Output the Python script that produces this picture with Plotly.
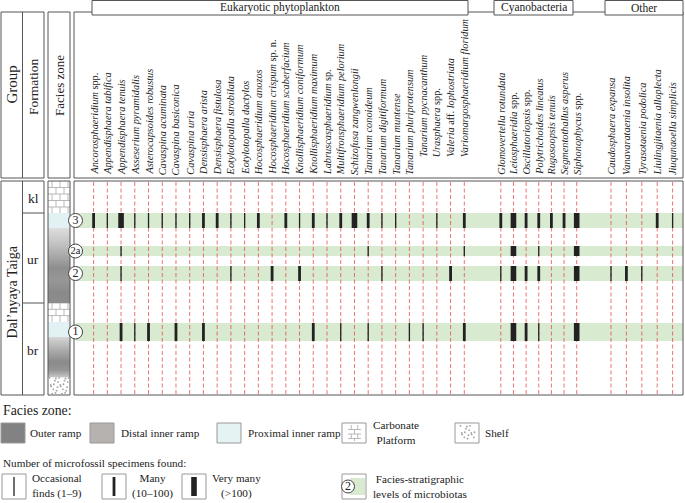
import plotly.graph_objects as go

# ---------------- data ----------------
euk_names = [
    "<i>Ancorosphaeridium</i> spp.", "<i>Appendisphaera tabifica</i>", "<i>Appendisphaera tenuis</i>",
    "<i>Asseserium pyramidalis</i>", "<i>Asterocapsoides robustus</i>", "<i>Cavaspina acuminata</i>",
    "<i>Cavaspina basiconica</i>", "<i>Cavaspina uria</i>", "<i>Densisphaera arista</i>",
    "<i>Densisphaera fistulosa</i>", "<i>Eotylotopalla strobilata</i>", "<i>Eotylotopalla dactylos</i>",
    "<i>Hocosphaeridium anozos</i>", "<i>Hocosphaeridium crispum</i> sp. n.", "<i>Hocosphaeridium scaberfacium</i>",
    "<i>Knollisphaeridium coniformum</i>", "<i>Knollisphaeridium maximum</i>", "<i>Labruscasphaeridium</i> sp.",
    "<i>Multifronsphaeridium pelorium</i>", "<i>Schizofusa zangwenlongii</i>", "<i>Tanarium conoideum</i>",
    "<i>Tanarium digitiformum</i>", "<i>Tanarium muntense</i>", "<i>Tanarium pluriprotensum</i>",
    "<i>Tanarium pycnacanthum</i>", "<i>Urasphaera</i> spp.", "<i>Valeria</i> aff. <i>lophostriata</i>",
    "<i>Variomargosphaeridium floridum</i>",
]
cyan_names = [
    "<i>Glomovertella rotundata</i>", "<i>Leiosphaeridia</i> spp.", "<i>Oscillatoriopsis</i> spp.",
    "<i>Polytrichoides lineatus</i>", "<i>Rugosoopsis tenuis</i>", "<i>Segmentothallus asperus</i>",
    "<i>Siphonophycus</i> spp.",
]
other_names = [
    "<i>Caudosphaera expansa</i>", "<i>Vanavarataenia insolita</i>", "<i>Tyrasotaenia podolica</i>",
    "<i>Liulingjitaenia alloplecta</i>", "<i>Jiuqunaoella simplicis</i>",
]
group_names = ["Eukaryotic phytoplankton", "Cyanobacteria", "Other"]

# abundance class per species: 0 none, 1 occasional, 2 many, 3 very many
level_names = ["3", "2a", "2", "1"]
level3 = [2, 1, 3, 1, 1, 1, 1, 1, 2, 2, 1, 1, 2, 0, 2, 1, 2, 1, 2, 3, 2, 1, 1, 0, 0, 1, 0, 2,
          2, 3, 2, 2, 2, 2, 3,
          0, 0, 0, 2, 1]
level2a = [0, 0, 1, 0, 0, 0, 0, 0, 0, 0, 0, 0, 0, 0, 0, 0, 0, 0, 0, 0, 1, 0, 0, 0, 0, 0, 0, 1,
           0, 3, 0, 1, 0, 0, 3,
           0, 0, 0, 0, 0]
level2 = [0, 0, 1, 0, 0, 0, 0, 0, 0, 0, 1, 0, 0, 2, 0, 2, 0, 0, 0, 0, 0, 1, 0, 0, 0, 0, 2, 0,
          1, 3, 2, 2, 0, 0, 3,
          1, 2, 1, 0, 0]
level1 = [0, 0, 2, 1, 2, 0, 2, 0, 2, 0, 0, 0, 0, 0, 0, 0, 2, 0, 1, 0, 1, 0, 0, 1, 1, 0, 0, 2,
          0, 3, 2, 1, 0, 0, 3,
          0, 0, 0, 0, 0]
levels = [level3, level2a, level2, level1]

formations = ["kl", "ur", "br"]
group_label = "Dal\u2019nyaya Taiga"

# ---------------- layout constants (pixels) ----------------
W, H = 685, 503
SERIF = "Liberation Serif, Times New Roman, serif"
FRAME = "#555555"
GREEN = "#d8eacf"
BAR = "#222222"
LEG_FS = 11.2
NONE = "rgba(0,0,0,0)"

euk_x0, euk_step = 93.6, 13.73
cyan_x0, cyan_step = 500.8, 12.65
oth_x0, oth_step = 611.0, 15.4
col_x = ([euk_x0 + euk_step * i for i in range(len(euk_names))] +
         [cyan_x0 + cyan_step * i for i in range(len(cyan_names))] +
         [oth_x0 + oth_step * i for i in range(len(other_names))])
all_names = euk_names + cyan_names + other_names

data_top, data_bot = 181, 395
head_top, head_bot = 12, 178
level_span = [(213, 228), (246, 256), (266, 281), (323, 341)]
bar_width = {1: 1.3, 2: 2.8, 3: 5.6}

shapes = []
annotations = []
traces = []


def rect(x0, y0, x1, y1, fill=NONE, line=FRAME, lw=1.0, layer="below"):
    shapes.append(dict(type="rect", x0=x0, y0=y0, x1=x1, y1=y1, fillcolor=fill,
                       line=dict(color=line, width=lw), layer=layer, xref="x", yref="y"))


def seg(x0, y0, x1, y1, color=FRAME, lw=1.0, layer="below"):
    shapes.append(dict(type="line", x0=x0, y0=y0, x1=x1, y1=y1,
                       line=dict(color=color, width=lw), layer=layer, xref="x", yref="y"))


def text(x, y, s, size=LEG_FS, angle=0, xa="left", ya="middle"):
    annotations.append(dict(x=x, y=y, xref="x", yref="y", text=s, showarrow=False,
                            textangle=angle, xanchor=xa, yanchor=ya, borderpad=0,
                            font=dict(family=SERIF, size=size, color="#222")))


def hexmix(c1, c2, t):
    a = [int(c1[i:i + 2], 16) for i in (1, 3, 5)]
    b = [int(c2[i:i + 2], 16) for i in (1, 3, 5)]
    return "#%02x%02x%02x" % tuple(round(a[k] + (b[k] - a[k]) * t) for k in range(3))


def gradient(x0, x1, stops):
    for (ya, ca), (yb, cb) in zip(stops[:-1], stops[1:]):
        n = max(1, int(round(yb - ya)))
        for k in range(n):
            c = hexmix(ca, cb, (k + 0.5) / n)
            y = ya + (yb - ya) * k / n
            shapes.append(dict(type="rect", x0=x0, x1=x1, y0=y, y1=y + (yb - ya) / n + 0.3,
                               fillcolor=c, line=dict(width=0), layer="below"))


def bricks(x0, x1, y0, y1, rowh, bw, color="#a8a8a8"):
    r = 0
    y = y0
    while y < y1 - 0.5:
        yn = min(y + rowh, y1)
        if y > y0:
            seg(x0, y, x1, y, color, 0.8)
        off = (bw / 2) if r % 2 else 0
        xx = x0 + off + bw / 2
        while xx < x1 - 1:
            seg(xx, y, xx, yn, color, 0.8)
            xx += bw
        y = yn
        r += 1


dot_x, dot_y = [], []


def dots(x0, x1, y0, y1, step=3.2):
    r = 0
    y = y0 + 1.5
    while y < y1 - 1:
        x = x0 + 1.5 + (step / 2 if r % 2 else 0) + ((r * 7) % 3) * 0.6
        i = 0
        while x < x1 - 1:
            if (i + r) % 3 != 1:
                dot_x.append(x)
                dot_y.append(y + ((i * 5 + r) % 3 - 1) * 0.7)
            x += step
            i += 1
        y += step * 0.9
        r += 1


# ---------------- header ----------------
rect(1, head_top, 44, head_bot)
seg(22.5, head_top, 22.5, head_bot)
rect(48, head_top, 70, head_bot)
rect(74, head_top, 683, head_bot)
text(11.5, 85, "Group", 15, -90, "center", "middle")
text(33, 87, "Formation", 13.5, -90, "center", "middle")
text(59, 86, "Facies zone", 13, -90, "center", "middle")

group_boxes = [(92, 468), (494, 573), (605, 683)]
for (gx0, gx1), gname in zip(group_boxes, group_names):
    rect(gx0, 0.5, gx1, 15, fill="white")
    text((gx0 + gx1) / 2, 7.5, gname, 11.5, 0, "center", "middle")

raised = {24, 25, 26, 27}
for i, (cx, nm) in enumerate(zip(col_x, all_names)):
    yb = 158 if i in raised else 176
    text(cx, yb, nm, 10.3, -90, "center", "bottom")

# ---------------- left columns ----------------
rect(1, data_top, 44, data_bot)
seg(22.5, data_top, 22.5, data_bot)
form_bounds = [data_top, 213, 303, data_bot]
for b in form_bounds[1:-1]:
    seg(22.5, b, 44, b)
for k, f in enumerate(formations):
    text(33, (form_bounds[k] + form_bounds[k + 1]) / 2 + 1, f, 13.5, 0, "center", "middle")
text(11.5, 292, group_label, 14, -90, "center", "middle")

# facies column
fx0, fx1 = 48, 70
bricks(fx0, fx1, data_top, 213, 6.5, 8)
rect(fx0, 213, fx1, 228, fill="#e2f1f3", line=NONE, lw=0)
gradient(fx0, fx1, [(228, "#dedede"), (244, "#c2c2c2"), (258, "#a4a4a4"), (268, "#8e8e8e"),
                    (280, "#979797"), (292, "#8a8a8a"), (303, "#8c8c8c")])
bricks(fx0, fx1, 303, 322, 6.3, 8)
rect(fx0, 322, fx1, 337, fill="#e2f1f3", line=NONE, lw=0)
gradient(fx0, fx1, [(337, "#d6d6d6"), (350, "#acacac"), (362, "#8a8a8a"), (370, "#959595"),
                    (377, "#c4c4c4")])
dots(fx0, fx1, 377, data_bot)
rect(fx0, data_top, fx1, data_bot)

# data panel
for (y0, y1) in level_span:
    rect(76, y0, 683, y1, fill=GREEN, line=NONE, lw=0)
rect(74, data_top, 683, data_bot)

# dashed column guides
gx, gy = [], []
for cx in col_x:
    gx += [cx, cx, None]
    gy += [data_top + 1, data_bot - 1, None]
traces.append(go.Scatter(x=gx, y=gy, mode="lines", hoverinfo="skip",
                         line=dict(color="rgba(228,70,70,0.75)", width=1, dash="4px,2.5px")))

# bars
for cls in (1, 2, 3):
    bx, by = [], []
    for lv, (y0, y1) in zip(levels, level_span):
        for cx, v in zip(col_x, lv):
            if v == cls:
                bx += [cx, cx, None]
                by += [y0, y1, None]
    traces.append(go.Scatter(x=bx, y=by, mode="lines", hoverinfo="skip",
                             line=dict(color=BAR, width=bar_width[cls])))

# level circles
traces.append(go.Scatter(
    x=[75.5] * len(level_names), y=[(a + b) / 2 for a, b in level_span],
    mode="markers+text", text=level_names, textposition="middle center",
    textfont=dict(family=SERIF, size=[12, 10.5, 12, 12], color="#222"),
    marker=dict(size=14, color="white", line=dict(color="#444", width=1)),
    hoverinfo="skip"))

# ---------------- legend ----------------
text(2, 410, "Facies zone:", 13.8)
ly0, ly1 = 423, 443
rect(1, ly0, 25, ly1, fill="#828282", line="#999")
text(29, 433, "Outer ramp")
rect(90, ly0, 114, ly1, fill="#b5b2b0", line="#999")
text(120, 433, "Distal inner ramp")
rect(217, ly0, 241, ly1, fill="#e6f3f3", line="#999")
text(247, 433, "Proximal inner ramp")
rect(342, ly0, 366, ly1, line="#999")
bricks(348, 361, ly0 + 2, ly1 - 2, 4.5, 6.5)
text(372, 432, "Carbonate<br>Platform")
rect(455, ly0, 479, ly1, line="#999")
dots(459, 476, ly0 + 2, ly1 - 2)
text(484, 433, "Shelf")

text(2, 463, "Number of microfossil specimens found:")
ry0, ry1 = 474, 499
leg_items = [(2, "Occasional<br>finds (1\u20139)", 1), (102, "Many<br>(10\u2013100)", 2),
             (182, "Very many<br>(>100)", 3)]
for lx, lab, cls in leg_items:
    rect(lx, ry0, lx + 24, ry1, line="#999")
    seg(lx + 12, ry0 + 3, lx + 12, ry1 - 3, BAR, bar_width[cls])
    text(lx + 29, 486, lab)
rect(350, 478, 365, 495, fill=GREEN, line=NONE, lw=0)
rect(342, ry0, 366, ry1, line="#999")
traces.append(go.Scatter(x=[348], y=[486.5], mode="markers+text", text=["2"],
                         textposition="middle center",
                         textfont=dict(family=SERIF, size=12, color="#222"),
                         marker=dict(size=13, color="white", line=dict(color="#444", width=1)),
                         hoverinfo="skip"))
text(372, 486, "Facies-stratigraphic<br>levels of microbiotas")

traces.append(go.Scatter(x=dot_x, y=dot_y, mode="markers", hoverinfo="skip",
                         marker=dict(size=1.8, color="#a0a0a0", line=dict(width=0))))

fig = go.Figure(traces)
fig.update_layout(
    width=W, height=H, margin=dict(l=0, r=0, t=0, b=0),
    paper_bgcolor="white", plot_bgcolor="white", showlegend=False,
    xaxis=dict(range=[0, W], visible=False, fixedrange=True),
    yaxis=dict(range=[H, 0], visible=False, fixedrange=True),
    shapes=shapes, annotations=annotations,
)
fig.write_html("out.html", config={"displayModeBar": False},
               post_script="document.body.style.margin='0px';document.body.style.overflow='hidden';")
